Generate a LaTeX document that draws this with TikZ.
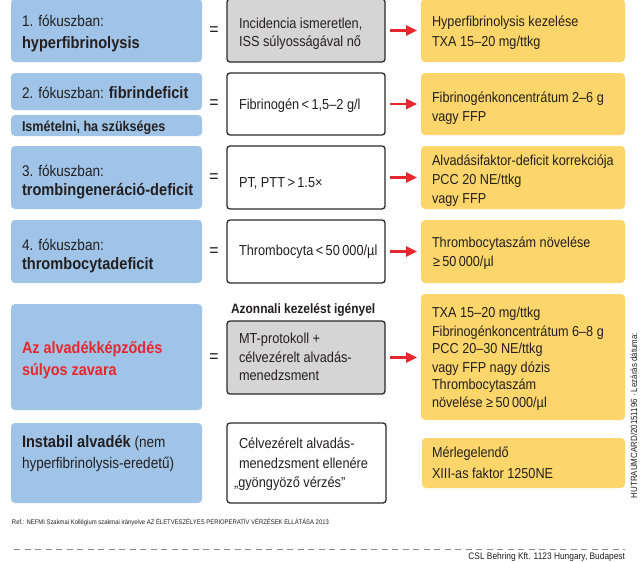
\documentclass[tikz,border=0pt]{standalone}
\usepackage{fontspec}
\setmainfont[FakeStretch=0.88]{Liberation Sans}
\usetikzlibrary{arrows.meta}
\definecolor{cblue}{HTML}{A0C4E8}
\definecolor{cyel}{HTML}{FCD66A}
\definecolor{cgrey}{HTML}{D5D5D5}
\definecolor{cred}{HTML}{E8262E}
\definecolor{ctxt}{HTML}{231F20}
\definecolor{cedge}{HTML}{2A2A2A}
\definecolor{cdash}{HTML}{8C8C8C}
\newcommand\Txt[5]{\node[#4, anchor=base west] (#1) at (#2,#3) {#5};}
\newcommand\Panel[6]{\node[#2, anchor=north west, minimum width={(#5-#3)*1pt}, minimum height={(#6-#4)*1pt}] (#1) at (#3,#4) {};}
\begin{document}
\begin{tikzpicture}[x=1pt,y=-1pt,
  panel/.style={inner sep=0pt, outer sep=0pt},
  bluebox/.style={panel, fill=cblue, rounded corners=4pt},
  yelbox/.style={panel, fill=cyel, rounded corners=4pt},
  greybox/.style={panel, fill=cgrey, draw=cedge, line width=1.3pt, rounded corners=3pt},
  whitebox/.style={panel, fill=white, draw=cedge, line width=1.3pt, rounded corners=3pt},
  txtbase/.style={inner sep=0pt, outer sep=0pt, text=ctxt},
  bt/.style={txtbase, font=\fontsize{15.4}{18}\selectfont},
  bbt/.style={txtbase, font=\fontsize{16.6}{18}\selectfont\bfseries},
  mt/.style={txtbase, font=\fontsize{14.5}{18}\selectfont},
  yt/.style={txtbase, font=\fontsize{14.4}{18}\selectfont},
  smb/.style={txtbase, font=\fontsize{14.3}{18}\selectfont\bfseries},
  labt/.style={txtbase, font=\fontsize{13.6}{18}\selectfont\bfseries},
  rt/.style={txtbase, text=cred, font=\fontsize{16.4}{18}\selectfont\bfseries},
  eqs/.style={txtbase, font=\fontsize{18}{18}\selectfont},
  redarrow/.style={draw=cred, line width=2.6pt, -{Triangle[length=11pt,width=10pt]}, shorten <=5pt, shorten >=4pt}
]
\useasboundingbox (0,0) rectangle (640,562);
\fill[white] (0,0) rectangle (640,562);

% Row 1
\Panel{b1}{bluebox}{11}{-1}{202}{62}
\Panel{m1}{greybox}{227}{-1}{385}{62}
\Panel{y1}{yelbox}{421}{-1}{625}{62}
\Txt{b1a}{22}{27}{bt}{1. fókuszban:}
\Txt{b1b}{22}{48}{bbt}{hyperfibrinolysis}
\Txt{m1a}{239}{28}{mt}{Incidencia ismeretlen,}
\Txt{m1b}{239}{46}{mt}{ISS súlyosságával nő}
\Txt{y1a}{432}{27}{yt}{Hyperfibrinolysis kezelése}
\Txt{y1b}{432}{46}{yt}{TXA 15–20 mg/ttkg}
\node[eqs] (e1) at (214,31) {=};
\draw[redarrow] (m1.east) -- (m1.east -| y1.west);

% Row 2
\Panel{b2}{bluebox}{11}{73}{202}{110}
\Panel{b2r}{bluebox}{11}{115}{202}{136}
\Panel{m2}{whitebox}{227}{73}{385}{135}
\Panel{y2}{yelbox}{421}{73}{625}{135}
\Txt{b2a}{22}{98}{bt}{2. fókuszban: {\fontsize{16.6}{18}\selectfont\bfseries fibrindeficit}}
\Txt{b2b}{22}{131}{smb}{Ismételni, ha szükséges}
\Txt{m2a}{239}{109}{mt}{Fibrinogén\,<\,1,5–2 g/l}
\Txt{y2a}{432}{102}{yt}{Fibrinogénkoncentrátum 2–6 g}
\Txt{y2b}{432}{121}{yt}{vagy FFP}
\node[eqs] (e2) at (214,104) {=};
\draw[redarrow] (m2.east) -- (m2.east -| y2.west);

% Row 3
\Panel{b3}{bluebox}{11}{146}{202}{209}
\Panel{m3}{whitebox}{227}{146}{385}{209}
\Panel{y3}{yelbox}{421}{146}{625}{209}
\Txt{b3a}{22}{176}{bt}{3. fókuszban:}
\Txt{b3b}{22}{195}{bbt}{trombingeneráció-deficit}
\Txt{m3a}{239}{187}{mt}{PT, PTT\,>\,1.5×}
\Txt{y3a}{432}{165}{yt}{Alvadásifaktor-deficit korrekciója}
\Txt{y3b}{432}{184}{yt}{PCC 20 NE/ttkg}
\Txt{y3c}{432}{203}{yt}{vagy FFP}
\node[eqs] (e3) at (214,178) {=};
\draw[redarrow] (m3.east) -- (m3.east -| y3.west);

% Row 4
\Panel{b4}{bluebox}{11}{220}{202}{283}
\Panel{m4}{whitebox}{227}{220}{385}{283}
\Panel{y4}{yelbox}{421}{220}{625}{283}
\Txt{b4a}{22}{250}{bt}{4. fókuszban:}
\Txt{b4b}{22}{269}{bbt}{thrombocytadeficit}
\Txt{m4a}{239}{255}{mt}{Thrombocyta\,<\,50\,000/µl}
\Txt{y4a}{432}{247}{yt}{Thrombocytaszám növelése}
\Txt{y4b}{433}{266}{yt}{≥\,50\,000/µl}
\node[eqs] (e4) at (214,252) {=};
\draw[redarrow] (m4.east) -- (m4.east -| y4.west);

% Row 5
\Panel{b5}{bluebox}{11}{304}{202}{410}
\Panel{m5}{greybox}{227}{321}{385}{394}
\Panel{y5}{yelbox}{421}{294}{625}{420}
\Txt{lab5}{231}{313}{labt}{Azonnali kezelést igényel}
\Txt{r5a}{22}{353}{rt}{Az alvadékképződés}
\Txt{r5b}{22}{375}{rt}{súlyos zavara}
\Txt{m5a}{239}{343}{mt}{MT-protokoll +}
\Txt{m5b}{239}{362}{mt}{célvezérelt alvadás-}
\Txt{m5c}{239}{380}{mt}{menedzsment}
\Txt{y5a}{432}{317}{yt}{TXA 15–20 mg/ttkg}
\Txt{y5b}{432}{336}{yt}{Fibrinogénkoncentrátum 6–8 g}
\Txt{y5c}{432}{353}{yt}{PCC 20–30 NE/ttkg}
\Txt{y5d}{432}{372}{yt}{vagy FFP nagy dózis}
\Txt{y5e}{432}{389}{yt}{Thrombocytaszám}
\Txt{y5f}{432}{407}{yt}{növelése ≥\,50\,000/µl}
\node[eqs] (e5) at (214,358) {=};
\draw[redarrow] (m5.east) -- (m5.east -| y5.west);

% Row 6
\Panel{b6}{bluebox}{11}{423}{202}{503}
\Panel{m6}{whitebox}{227}{423}{386}{503}
\Panel{y6}{yelbox}{422}{438}{625}{488}
\Txt{b6a}{22}{447}{bt}{{\fontsize{16.6}{18}\selectfont\bfseries Instabil alvadék} (nem}
\Txt{b6b}{22}{468}{bt}{hyperfibrinolysis-eredetű)}
\Txt{m6a}{239}{448}{mt}{Célvezérelt alvadás-}
\Txt{m6b}{239}{468}{mt}{menedzsment ellenére}
\Txt{m6c}{234}{487}{mt}{„gyöngyöző vérzés”}
\Txt{y6a}{432}{457}{yt}{Mérlegelendő}
\Txt{y6b}{432}{478}{yt}{XIII-as faktor 1250NE}

% Footer
\Txt{ref}{12}{524}{txtbase, font=\fontsize{6.7}{7}\selectfont}{Ref.: NEFMI Szakmai Kollégium szakmai irányelve AZ ÉLETVESZÉLYES PERIOPERATÍV VÉRZÉSEK ELLÁTÁSA 2013}
\coordinate (dl) at (14,549);
\coordinate (dr) at (625,549);
\draw[cdash, line width=0.9pt, dash pattern=on 6pt off 4.5pt] (dl) -- (dr);
\node[txtbase, anchor=base east, font=\fontsize{9.5}{11}\selectfont] (csl) at (625,559.5) {CSL Behring Kft. 1123 Hungary, Budapest};
\node[txtbase, anchor=base west, rotate=90, font=\fontsize{9}{10}\selectfont] (code) at (637,498) {HUTRAUMCARD/20151196 · Lezárás dátuma:};
\end{tikzpicture}
\end{document}
